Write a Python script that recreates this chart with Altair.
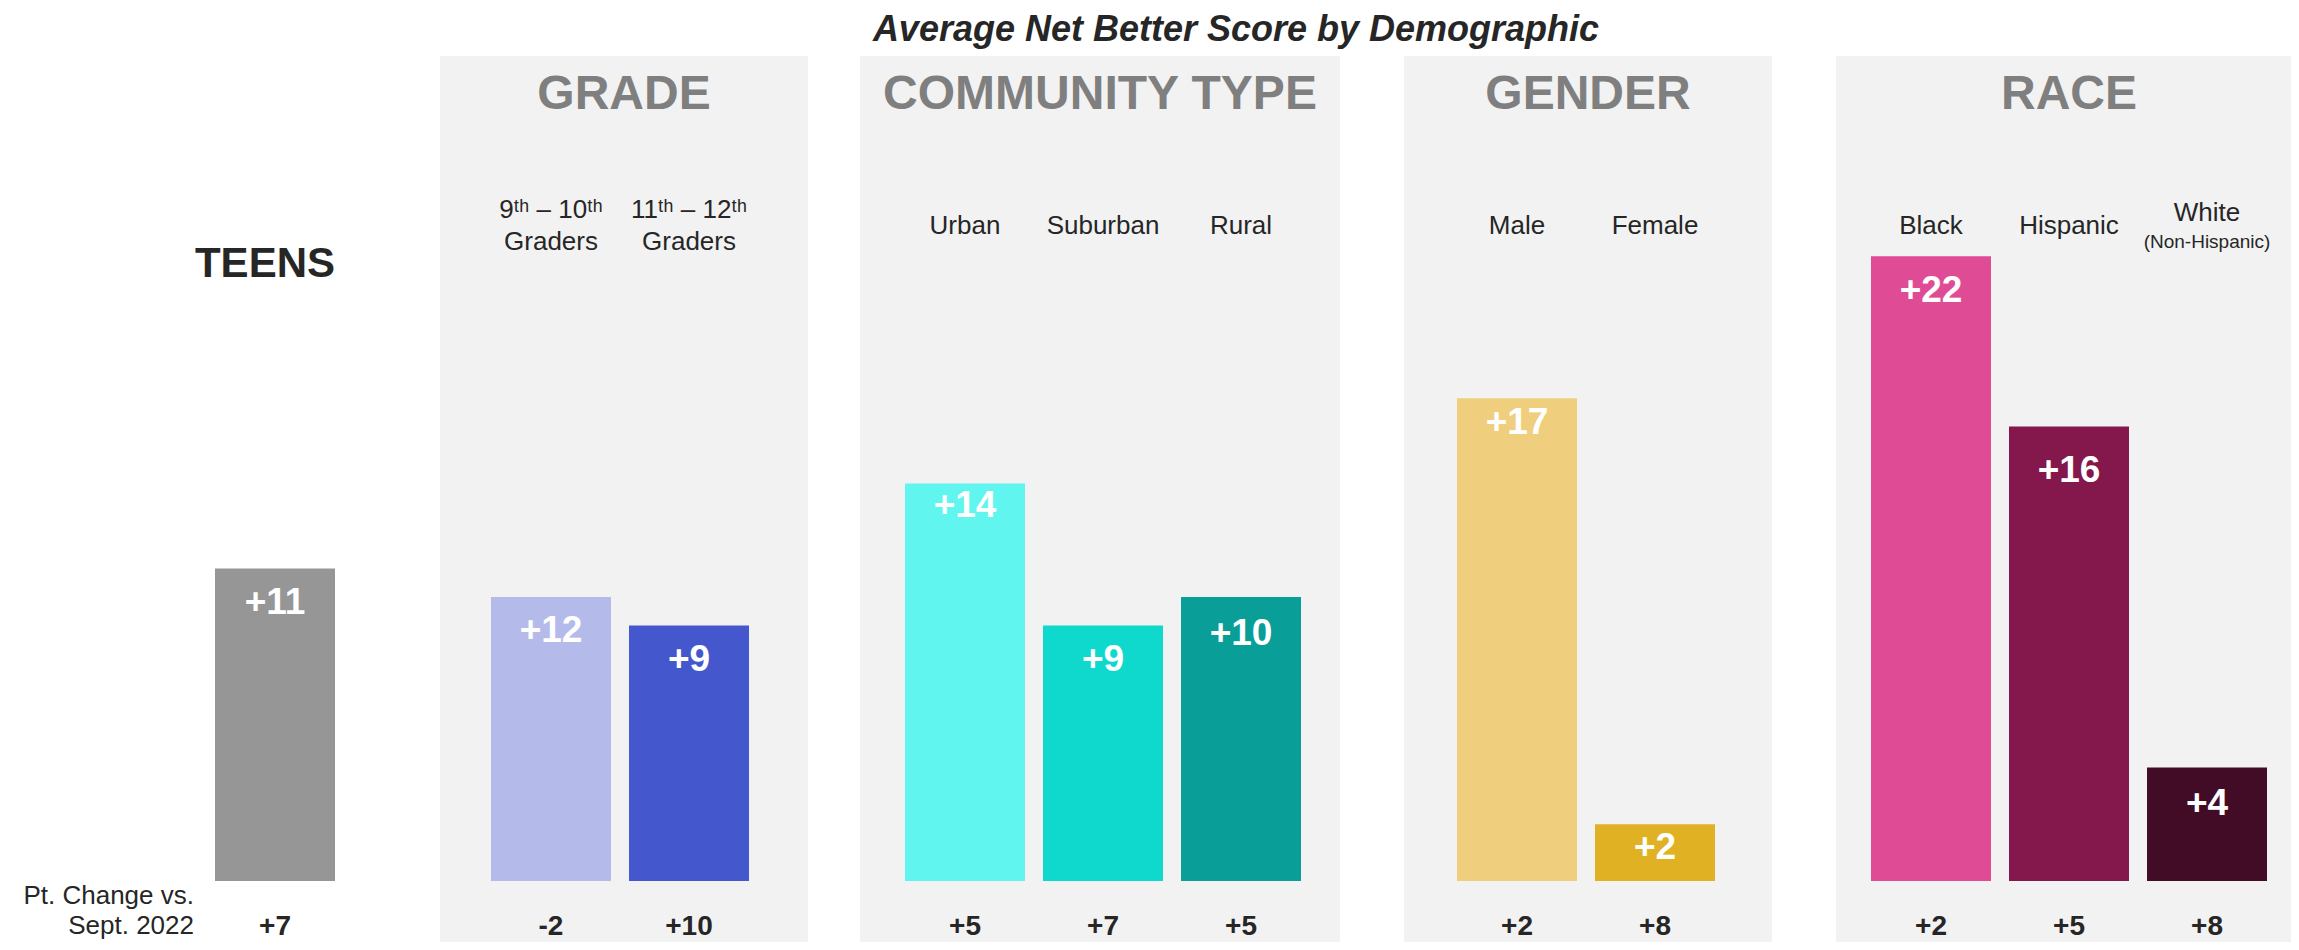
import altair as alt
import pandas as pd

# ---------------- data ----------------
TITLE = "Average Net Better Score by Demographic"
GROUPS = ["TEENS", "GRADE", "COMMUNITY TYPE", "GENDER", "RACE"]
GROUP_OF = ["TEENS", "GRADE", "GRADE", "COMMUNITY TYPE", "COMMUNITY TYPE",
            "COMMUNITY TYPE", "GENDER", "GENDER", "RACE", "RACE", "RACE"]
CATEGORIES = ["Teens", "9th-10th Graders", "11th-12th Graders", "Urban", "Suburban",
              "Rural", "Male", "Female", "Black", "Hispanic", "White (Non-Hispanic)"]
LABEL_LINE1 = ["", "9ᵗʰ – 10ᵗʰ", "11ᵗʰ – 12ᵗʰ", "Urban", "Suburban", "Rural",
               "Male", "Female", "Black", "Hispanic", "White"]
LABEL_LINE2 = ["", "Graders", "Graders", "", "", "", "", "", "", "", "(Non-Hispanic)"]
SCORES = [11, 12, 9, 14, 9, 10, 17, 2, 22, 16, 4]        # printed value labels
BAR_HEIGHTS = [11, 10, 9, 14, 9, 10, 17, 2, 22, 16, 4]   # bar heights as drawn
PT_CHANGE = [7, -2, 10, 5, 7, 5, 2, 8, 2, 5, 8]
CHANGE_CAPTION = ["Pt. Change vs.", "Sept. 2022"]
COLORS = ["#969696", "#b4bbea", "#4557cc", "#60f5ef", "#0fd8cc", "#0a9e98",
          "#efcf7d", "#e1b124", "#df4b94", "#84174b", "#420c27"]

# ---------------- layout ----------------
W, H = 2283, 934
PX_X0, STEP = 267, 138       # plot px of first slot centre, px per slot
PX_Y0, UNIT = 873, 28.4      # plot px of baseline, px per score point
HALF_BAR = 60 / STEP
LABEL_DROP_PX = [34, 34, 35, 23, 35, 37, 25, 24, 35, 44, 37]  # value label below bar top
PANEL_PAD = {"GRADE": (-111, 119), "COMMUNITY TYPE": (-105, 99),
             "GENDER": (-113, 117), "RACE": (-95, 130)}
FONT = "Liberation Sans"

x_scale = alt.Scale(domain=[-PX_X0 / STEP, (W - PX_X0) / STEP], zero=False, nice=False)
y_scale = alt.Scale(domain=[(PX_Y0 - H) / UNIT, PX_Y0 / UNIT], zero=False, nice=False)

# slot index for each bar (one empty slot between groups)
slots, s, prev = [], 0, None
for g in GROUP_OF:
    if prev is not None and g != prev:
        s += 1
    slots.append(s)
    s += 1
    prev = g

bars_df = pd.DataFrame({
    "group": GROUP_OF, "cat": CATEGORIES, "slot": slots,
    "score": SCORES, "bar": BAR_HEIGHTS, "change": PT_CHANGE,
})
bars_df["x1"] = bars_df["slot"] - HALF_BAR
bars_df["x2"] = bars_df["slot"] + HALF_BAR
bars_df["base"] = 0.0
bars_df["label"] = bars_df["score"].map(lambda v: f"{v:+d}")
bars_df["label_y"] = [b - d / UNIT for b, d in zip(BAR_HEIGHTS, LABEL_DROP_PX)]
bars_df["change_label"] = bars_df["change"].map(lambda v: f"{v:+d}")

panel_rows = []
for g in GROUPS[1:]:
    sl = [sv for sv, gg in zip(slots, GROUP_OF) if gg == g]
    l = sl[0] + PANEL_PAD[g][0] / STEP
    r = sl[-1] + PANEL_PAD[g][1] / STEP
    tx = (l + r) / 2 if g != "RACE" else (sl[0] + sl[-1]) / 2
    panel_rows.append({"group": g, "x1": l, "x2": r, "tx": tx})
panel_df = pd.DataFrame(panel_rows)

lab_rows = []
for sv, a, b in zip(slots, LABEL_LINE1, LABEL_LINE2):
    if not a:
        continue
    if b:
        small = b.startswith("(")
        lab_rows.append({"slot": sv, "t": a, "py": (213 if small else 210) - 8, "fs": 26})
        lab_rows.append({"slot": sv, "t": b, "py": 242 - 8, "fs": 19 if small else 26})
    else:
        lab_rows.append({"slot": sv, "t": a, "py": 226 - 8, "fs": 26})
lab_df = pd.DataFrame(lab_rows)

X = lambda f: alt.X(f, type="quantitative", scale=x_scale, axis=None)
Y = lambda f: alt.Y(f, type="quantitative", scale=y_scale, axis=None)

panels = alt.Chart(panel_df).mark_rect(color="#f2f2f2").encode(
    x=X("x1"), x2="x2", y=alt.value(48), y2=alt.value(H))

panel_titles = alt.Chart(panel_df).mark_text(
    font=FONT, fontSize=48, fontWeight="bold", color="#7f7f7f", baseline="middle"
).encode(x=X("tx"), y=alt.value(95 - 8), text="group:N")

bars = alt.Chart(bars_df).mark_bar().encode(
    x=X("x1"), x2="x2", y=Y("bar"), y2="base",
    color=alt.Color("cat:N", scale=alt.Scale(domain=CATEGORIES, range=COLORS), legend=None))

value_labels = alt.Chart(bars_df).mark_text(
    font=FONT, fontSize=37, fontWeight="bold", color="white", baseline="middle"
).encode(x=X("slot"), y=Y("label_y"), text="label:N")

cat_labels = alt.Chart(lab_df).mark_text(
    font=FONT, color="#262626", baseline="middle"
).encode(x=X("slot"), y=alt.Y("py:Q", scale=None),
         size=alt.Size("fs:Q", scale=None, legend=None), text="t:N")

change_labels = alt.Chart(bars_df).mark_text(
    font=FONT, fontSize=28, fontWeight="bold", color="#262626", baseline="middle"
).encode(x=X("slot"), y=alt.value(927 - 8), text="change_label:N")

teens_df = bars_df[bars_df["group"] == "TEENS"].assign(tx=lambda d: d["slot"] + HALF_BAR, t="TEENS")
teens = alt.Chart(teens_df).mark_text(
    font=FONT, fontSize=42, fontWeight="bold", color="#262626", baseline="middle", align="right"
).encode(x=X("tx"), y=alt.value(264 - 8), text="t:N")

cap_df = pd.DataFrame({"t": CHANGE_CAPTION, "py": [896 - 8, 926 - 8]})
caption = alt.Chart(cap_df).mark_text(
    font=FONT, fontSize=26, color="#262626", baseline="middle", align="right"
).encode(x=alt.value(194 - 8), y=alt.Y("py:Q", scale=None), text="t:N")

title = alt.Chart(pd.DataFrame({"t": [TITLE]})).mark_text(
    font=FONT, fontSize=36, fontWeight="bold", fontStyle="italic", color="#262626",
    baseline="alphabetic"
).encode(x=alt.value(1236 - 8), y=alt.value(33), text="t:N")

chart = alt.layer(
    panels, panel_titles, bars, value_labels, cat_labels, change_labels, teens, caption, title
).properties(
    width=W, height=H, autosize=alt.AutoSizeParams(type="none"), padding=0, background="white"
).configure_view(stroke=None)

chart.save("out.html", embed_options={"renderer": "svg", "actions": False})
